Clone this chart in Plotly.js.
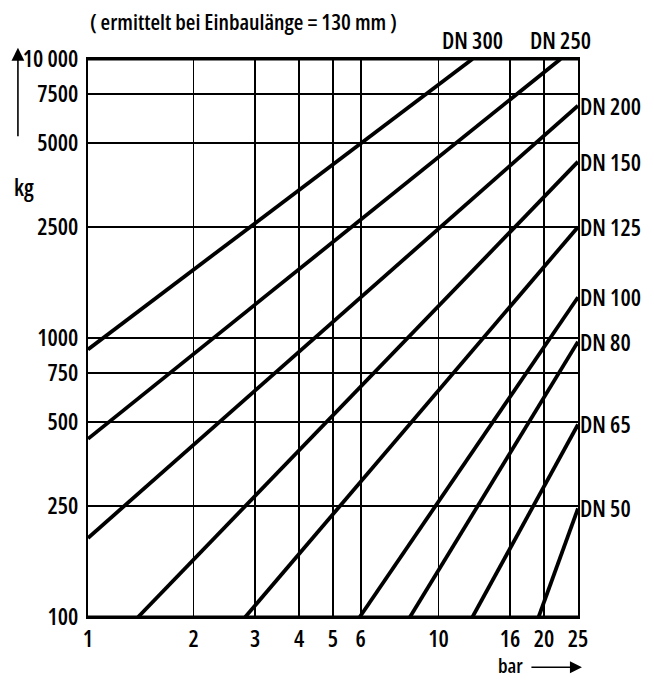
<!DOCTYPE html>
<html>
<head>
<meta charset="utf-8">
<script src="https://cdn.plot.ly/plotly-3.0.1.min.js"></script>
<style>
  html, body { margin: 0; padding: 0; background: #fff; }
  #chart { width: 654px; height: 682px; }
  svg text { font-stretch: 75% !important; }
</style>
</head>
<body>
<div id="chart"></div>
<script>
// ---- data ----
const dnNames  = ["DN 300", "DN 250", "DN 200", "DN 150", "DN 125", "DN 100", "DN 80", "DN 65", "DN 50"];
const xStart   = [1,    1,    1,    1.39, 2.81, 5.96, 8.29, 12.5, 19.3];   // bar
const yStart   = [910,  435,  192,  100,  100,  100,  100,  100,  100];    // kg
const xEnd     = [12.5, 22.3, 25,   25,   25,   25,   25,   25,   25];     // bar
const yEnd     = [10000,10000,6800, 4285, 2500, 1400, 970,  490,  245];    // kg
const xTickVals = [1, 2, 3, 4, 5, 6, 10, 16, 20, 25];
const xTickText = ["1", "2", "3", "4", "5", "6", "10", "16", "20", "25"];
const yTickVals = [100, 250, 500, 750, 1000, 2500, 5000, 7500, 10000];
const yTickText = ["100", "250", "500", "750", "1000", "2500", "5000", "7500", "10 000"];
const titleText = "( ermittelt bei Einbaulänge = 130 mm )";
const xUnit = "bar";
const yUnit = "kg";

const FONT = "'Open Sans', 'DejaVu Sans', sans-serif";
const FS = 23;
const FW = 600;

const traces = dnNames.map((name, i) => ({
  type: "scatter",
  mode: "lines",
  name: name,
  x: [xStart[i], xEnd[i]],
  y: [yStart[i], yEnd[i]],
  line: { color: "#000", width: 3.8 },
  hoverinfo: "skip",
  showlegend: false
}));

const annotations = [];
dnNames.forEach((name, i) => {
  if (yEnd[i] >= 10000) {
    annotations.push({
      x: Math.log10(xEnd[i]), y: 1, xref: "x", yref: "paper",
      text: name, showarrow: false, xanchor: "center", yanchor: "bottom",
      yshift: 1, font: { family: FONT, size: FS, color: "#000", weight: FW }
    });
  } else {
    annotations.push({
      x: 1, y: Math.log10(yEnd[i]), xref: "paper", yref: "y",
      text: name, showarrow: false, xanchor: "left", yanchor: "middle",
      xshift: 0, font: { family: FONT, size: FS, color: "#000", weight: FW }
    });
  }
});

// title
annotations.push({
  x: 0, y: 1.068, xref: "paper", yref: "paper", xanchor: "left", yanchor: "middle",
  text: titleText, showarrow: false, font: { family: FONT, size: 22, color: "#000", weight: FW }
});
// kg + upward arrow
annotations.push({
  x: -0.13, y: 0.77, xref: "paper", yref: "paper", xanchor: "center", yanchor: "middle",
  text: yUnit, showarrow: false, font: { family: FONT, size: FS, color: "#000", weight: FW }
});
annotations.push({
  x: -0.143, y: 1.02, xref: "paper", yref: "paper",
  ax: 0, ay: 90, text: "", showarrow: true, arrowhead: 2, arrowsize: 1.6,
  arrowwidth: 1.6, arrowcolor: "#000"
});
// bar + right arrow
annotations.push({
  x: 0.892, y: -0.1155, xref: "paper", yref: "paper", xanchor: "right", yanchor: "bottom",
  text: xUnit, showarrow: false, font: { family: FONT, size: 20, color: "#000", weight: FW }
});
annotations.push({
  x: 1.008, y: -0.09, xref: "paper", yref: "paper",
  ax: -52, ay: 0, text: "", showarrow: true, arrowhead: 2, arrowsize: 1.5,
  arrowwidth: 1.6, arrowcolor: "#000"
});

const shapes = [
  { type: "line", xref: "paper", yref: "paper", x0: 0, x1: 1, y0: 1, y1: 1, line: { color: "#000", width: 3 } },
  { type: "line", xref: "paper", yref: "paper", x0: 0, x1: 1, y0: 0, y1: 0, line: { color: "#000", width: 3 } }
];

const layout = {
  width: 654, height: 682,
  margin: { l: 88, r: 76, t: 59, b: 65 },
  paper_bgcolor: "#fff", plot_bgcolor: "#fff",
  showlegend: false,
  font: { family: FONT, size: FS, color: "#000", weight: FW },
  xaxis: {
    type: "log", range: [0, Math.log10(25)],
    tickvals: xTickVals, ticktext: xTickText,
    showgrid: true, gridcolor: "#000", gridwidth: 1.7,
    showline: true, linecolor: "#000", linewidth: 2, mirror: true,
    ticks: "", ticklabelstandoff: 0, zeroline: false,
    tickfont: { family: FONT, size: FS, color: "#000", weight: FW }
  },
  yaxis: {
    type: "log", range: [2, 4],
    tickvals: yTickVals, ticktext: yTickText,
    showgrid: true, gridcolor: "#000", gridwidth: 2,
    showline: true, linecolor: "#000", linewidth: 2, mirror: true,
    ticks: "", ticklabelstandoff: 3, zeroline: false,
    tickfont: { family: FONT, size: FS, color: "#000", weight: FW }
  },
  annotations: annotations,
  shapes: shapes
};

Plotly.newPlot("chart", traces, layout, { staticPlot: true, displayModeBar: false });
</script>
</body>
</html>
